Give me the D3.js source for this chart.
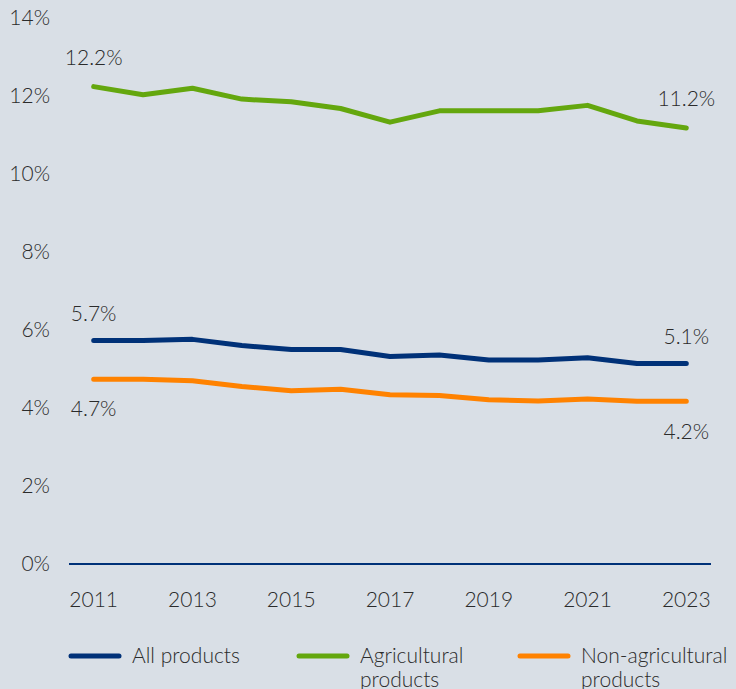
<!DOCTYPE html>
<html>

<head>
  <meta charset="utf-8">
  <style>
    body {
      margin: 0;
      background-color: #d9dfe6;
    }

    svg text {
      font-family: Lato, "Open Sans", sans-serif;
      font-weight: 300;
      fill: #2b2b2b;
    }
  </style>
</head>

<body>
  <svg id="chart" width="736" height="689"></svg>

  <script src="https://d3js.org/d3.v7.min.js"></script>
  <script>
    var width = 736,
      height = 689;

    var years = [2011, 2012, 2013, 2014, 2015, 2016, 2017, 2018, 2019, 2020, 2021, 2022, 2023];
    var allProducts = [5.73, 5.73, 5.76, 5.6, 5.5, 5.5, 5.32, 5.36, 5.23, 5.23, 5.29, 5.14, 5.14];
    var agricultural = [12.24, 12.03, 12.2, 11.92, 11.85, 11.68, 11.33, 11.62, 11.62, 11.62, 11.76, 11.36, 11.18];
    var nonAgricultural = [4.74, 4.74, 4.7, 4.55, 4.44, 4.48, 4.34, 4.32, 4.21, 4.18, 4.23, 4.17, 4.17];
    var yTicks = [0, 2, 4, 6, 8, 10, 12, 14];
    var xTicks = [2011, 2013, 2015, 2017, 2019, 2021, 2023];

    var series = [
      { name: ['All products'], values: allProducts, color: '#003178', first: '5.7%', last: '5.1%', dy: -27 },
      { name: ['Agricultural', 'products'], values: agricultural, color: '#64a70e', first: '12.2%', last: '11.2%', dy: -29 },
      { name: ['Non-agricultural', 'products'], values: nonAgricultural, color: '#ff8200', first: '4.7%', last: '4.2%', dy: 30 }
    ];

    var svg = d3.select('#chart');

    var x = d3.scalePoint()
      .domain(years)
      .range([69, 711])
      .padding(0.5);

    var y = d3.scaleLinear()
      .domain([0, 14])
      .range([564, 18]);

    // y tick labels
    svg.append('g')
      .selectAll('text')
      .data(yTicks)
      .join('text')
      .attr('x', 50)
      .attr('y', d => y(d))
      .attr('dy', '0.35em')
      .attr('text-anchor', 'end')
      .style('font-size', '21px')
      .text(d => d + '%');

    // x tick labels
    svg.append('g')
      .selectAll('text')
      .data(xTicks)
      .join('text')
      .attr('x', d => x(d))
      .attr('y', 600)
      .attr('dy', '0.35em')
      .attr('text-anchor', 'middle')
      .style('font-size', '21px')
      .text(d => d);

    // zero line
    svg.append('line')
      .attr('x1', 69)
      .attr('x2', 711)
      .attr('y1', y(0))
      .attr('y2', y(0))
      .attr('stroke', '#003178')
      .attr('stroke-width', 2);

    var line = d3.line()
      .x((d, i) => x(years[i]))
      .y(d => y(d));

    svg.append('g')
      .selectAll('path')
      .data(series)
      .join('path')
      .attr('d', d => line(d.values))
      .attr('fill', 'none')
      .attr('stroke', d => d.color)
      .attr('stroke-width', 5)
      .attr('stroke-linecap', 'round')
      .attr('stroke-linejoin', 'round');

    // end labels
    var labels = svg.append('g');
    series.forEach(function (s) {
      var n = s.values.length - 1;
      labels.append('text')
        .attr('x', x(years[0]))
        .attr('y', y(s.values[0]) + s.dy)
        .attr('dy', '0.35em')
        .attr('text-anchor', 'middle')
        .style('font-size', '21px')
        .text(s.first);
      labels.append('text')
        .attr('x', x(years[n]))
        .attr('y', y(s.values[n]) + s.dy)
        .attr('dy', '0.35em')
        .attr('text-anchor', 'middle')
        .style('font-size', '21px')
        .text(s.last);
    });

    // legend
    var legendX = [69, 297, 518];
    var legend = svg.append('g')
      .selectAll('g')
      .data(series)
      .join('g')
      .attr('transform', (d, i) => 'translate(' + legendX[i] + ',656)');

    legend.append('line')
      .attr('x1', 2)
      .attr('x2', 50)
      .attr('stroke', d => d.color)
      .attr('stroke-width', 5)
      .attr('stroke-linecap', 'round');

    legend.append('text')
      .style('font-size', '21px')
      .selectAll('tspan')
      .data(d => d.name)
      .join('tspan')
      .attr('x', 63)
      .attr('y', (d, i) => i * 24)
      .attr('dy', '0.35em')
      .text(d => d);
  </script>
</body>

</html>
